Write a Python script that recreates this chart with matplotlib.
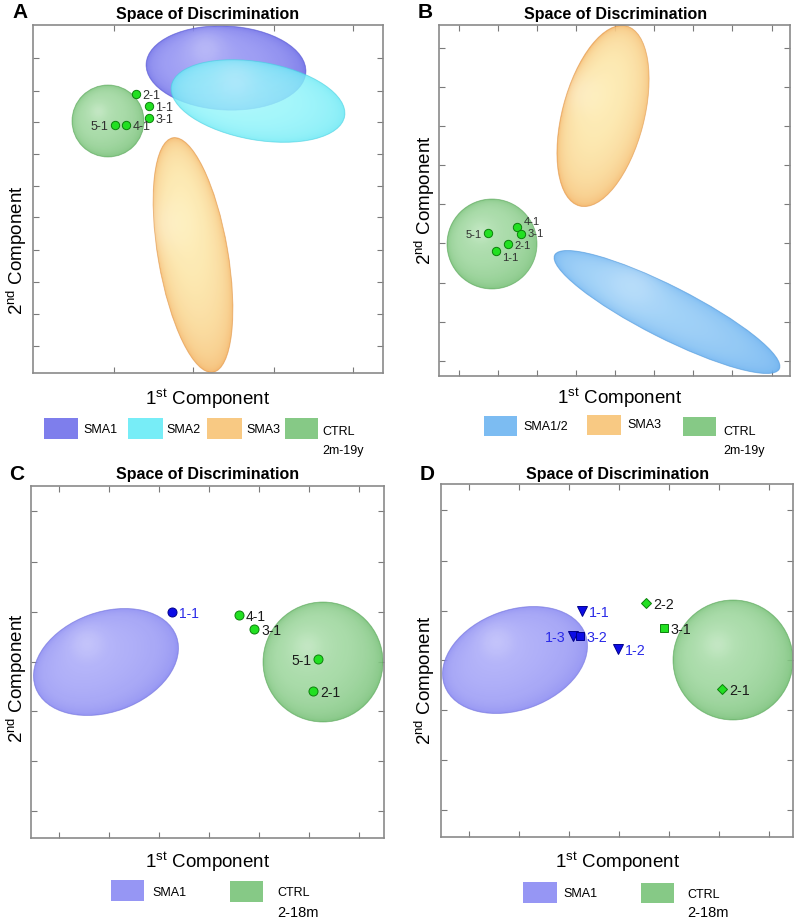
import numpy as np
import matplotlib
matplotlib.use("Agg")
import matplotlib.pyplot as plt
from matplotlib.patches import Ellipse, Rectangle
from matplotlib.colors import to_rgb

plt.rcParams['font.family'] = ['Liberation Sans', 'DejaVu Sans']
plt.rcParams['mathtext.fontset'] = 'custom'
plt.rcParams['mathtext.rm'] = 'Liberation Sans'
plt.rcParams['mathtext.it'] = 'Liberation Sans:italic'
plt.rcParams['mathtext.bf'] = 'Liberation Sans:bold'

# ---------------- data (component-space units) ----------------
# Panel A
A_ell_names = ['SMA1', 'SMA2', 'SMA3', 'CTRL']
A_ell_cx = [193, 225, 160, 75]
A_ell_cy = [305, 272, 118, 252]
A_ell_w = [160, 176, 238, 72]
A_ell_h = [84, 78, 70, 72]
A_ell_ang = [-3, -10, 99.7, 0]
A_pt_labels = ['2-1', '1-1', '3-1', '5-1', '4-1']
A_pt_x = [103, 116, 116, 82, 93]
A_pt_y = [279, 267, 255, 248, 248]
A_pt_side = ['r', 'r', 'r', 'l', 'r']
A_xticks = [81, 160, 241, 320]
A_yticks = [27, 59, 91, 123, 156, 187, 219, 251, 282, 315]

# Panel B
B_ell_names = ['SMA3', 'SMA1/2', 'CTRL']
B_ell_cx = [164, 228, 53]
B_ell_cy = [260, 64, 132]
B_ell_w = [186, 252, 90]
B_ell_h = [82, 52, 90]
B_ell_ang = [75.4, -26.9, 0]
B_pt_labels = ['5-1', '4-1', '3-1', '2-1', '1-1']
B_pt_x = [49, 78, 82, 69, 57]
B_pt_y = [143, 149, 142, 132, 125]
B_pt_side = ['l', 'r', 'r', 'r', 'r']
B_xticks = [20, 59, 98, 137, 176, 215, 254, 293, 333]
B_yticks = [15, 54, 93, 133, 172, 211, 250, 289, 328]

# Panel C
C_ell_names = ['SMA1', 'CTRL']
C_ell_cx = [75, 292]
C_ell_cy = [176, 176]
C_ell_w = [150, 120]
C_ell_h = [100, 120]
C_ell_ang = [20, 0]
C_pt_labels = ['1-1', '4-1', '3-1', '5-1', '2-1']
C_pt_group = ['SMA1', 'CTRL', 'CTRL', 'CTRL', 'CTRL']
C_pt_x = [141, 208, 223, 287, 282]
C_pt_y = [226, 223, 209, 179, 147]
C_pt_side = ['r', 'r', 'r', 'l', 'r']
C_xticks = [28, 78, 128, 178, 228, 278, 328]
C_yticks = [27, 77, 127, 176, 226, 276, 327]

# Panel D
D_ell_names = ['SMA1', 'CTRL']
D_ell_cx = [74, 292]
D_ell_cy = [177, 177]
D_ell_w = [150, 120]
D_ell_h = [100, 120]
D_ell_ang = [20, 0]
D_pt_labels = ['1-1', '1-3', '3-2', '1-2', '2-2', '3-1', '2-1']
D_pt_group = ['SMA1', 'SMA1', 'SMA1', 'SMA1', 'CTRL', 'CTRL', 'CTRL']
D_pt_marker = ['v', 'v', 's', 'v', 'D', 's', 'D']
D_pt_x = [141, 132, 139, 177, 205, 223, 281]
D_pt_y = [226, 201, 201, 188, 234, 209, 148]
D_pt_side = ['r', 'l', 'r', 'r', 'r', 'r', 'r']
D_xticks = [28, 78, 128, 178, 228, 278, 328]
D_yticks = [27, 77, 127, 177, 226, 276, 327]

# ---------------- styles ----------------
FILL = {
    'SMA1A': ('#5e5ee2', '#a6a6f8', 0.92),
    'SMA1': ('#7d7dee', '#b4b4fb', 0.92),
    'SMA2': ('#52e2f2', '#a4fafd', 0.82),
    'SMA3': ('#f2a552', '#fff6bf', 0.92),
    'CTRL': ('#62b462', '#b2e2b2', 0.9),
    'SMA1/2': ('#5aa6ec', '#a6d6fa', 0.92),
}
GREEN_FC, GREEN_EC = '#22e022', '#0b800b'
BLUE_FC, BLUE_EC = '#0c0ce6', '#00008c'
BLUE_TXT = '#2a2ae8'

FW, FH = 797, 920
fig = plt.figure(figsize=(FW / 100, FH / 100), dpi=100)


def fx(x):
    return x / FW


def fy(y):
    return 1 - y / FH


def make_ax(left, top, right, bottom, W, H, xt, yt):
    ax = fig.add_axes([fx(left), fy(bottom), (right - left) / FW, (bottom - top) / FH])
    ax.set_xlim(0, W)
    ax.set_ylim(0, H)
    ax.set_xticks(xt)
    ax.set_yticks(yt)
    ax.tick_params(direction='in', length=4, width=0.8, color='#7a7a7a',
                   top=True, right=True, labelbottom=False, labelleft=False)
    for s in ax.spines.values():
        s.set_color('#8a8a8a')
        s.set_linewidth(1.2)
    return ax


def shaded_ellipse(ax, cx, cy, w, h, ang, key, z):
    rim, light, alpha = FILL[key]
    rim = np.array(to_rgb(rim))
    light = np.array(to_rgb(light))
    R = max(w, h) / 2 + 2
    n = 260
    xs = np.linspace(cx - R, cx + R, n)
    ys = np.linspace(cy - R, cy + R, n)
    X, Y = np.meshgrid(xs, ys)
    th = np.deg2rad(ang)
    u = ((X - cx) * np.cos(th) + (Y - cy) * np.sin(th)) / (w / 2)
    v = (-(X - cx) * np.sin(th) + (Y - cy) * np.cos(th)) / (h / 2)
    r2 = np.clip(u ** 2 + v ** 2, 0, 1)
    zz = np.sqrt(1 - r2)
    gx = (X - cx) / R
    gy = (Y - cy) / R
    t = zz ** 0.55 * (0.85 + 0.15 * np.clip(-gx + gy, -1, 1))
    t = np.clip(t, 0, 1)
    col = rim[None, None, :] * (1 - t[..., None]) + light[None, None, :] * t[..., None]
    spec = 0.22 * np.exp(-((gx + 0.25) ** 2 + (gy - 0.25) ** 2) / 0.05)
    col = col + (1 - col) * spec[..., None]
    rgba = np.dstack([col, np.full(X.shape, alpha)])
    im = ax.imshow(rgba, extent=(cx - R, cx + R, cy - R, cy + R), origin='lower',
                   interpolation='bilinear', zorder=z, aspect='auto')
    clip = Ellipse((cx, cy), w, h, angle=ang, transform=ax.transData)
    im.set_clip_path(clip)
    edge = Ellipse((cx, cy), w, h, angle=ang, facecolor='none',
                   edgecolor=rim * 0.92, linewidth=0.6, alpha=0.6, zorder=z)
    ax.add_patch(edge)


def point_labels(ax, labels, xs, ys, sides, colors, size, dx=4.5, dys=None):
    if dys is None:
        dys = [-0.5] * len(labels)
    for lb, x, y, sd, c, dy in zip(labels, xs, ys, sides, colors, dys):
        off = dx if sd == 'r' else -dx
        ax.annotate(lb, (x, y), xytext=(off, dy), textcoords='offset points',
                    ha='left' if sd == 'r' else 'right', va='center',
                    fontsize=size, color=c, zorder=7)


def texts(title_x, title_y, letter_x, letter_y, letter, xl_x, xl_y, yl_x, yl_y):
    fig.text(fx(title_x), fy(title_y), 'Space of Discrimination', ha='center', va='center',
             fontsize=11.5, fontweight='bold')
    fig.text(fx(letter_x), fy(letter_y), letter, ha='center', va='center',
             fontsize=15, fontweight='bold')
    fig.text(fx(xl_x), fy(xl_y), r'1$^{\mathrm{st}}$ Component', ha='center', va='center',
             fontsize=13.5)
    fig.text(fx(yl_x), fy(yl_y), r'2$^{\mathrm{nd}}$ Component', ha='center', va='center',
             fontsize=13.5, rotation=90)


def legend_item(x0, x1, y0, y1, key, label, tx, ty, size=9, sub=None, sub_y=None, sub_size=9):
    rim, light, _ = FILL[key]
    r = np.array(to_rgb(rim))
    l = np.array(to_rgb(light))
    fig.patches.append(Rectangle((fx(x0), fy(y1)), (x1 - x0) / FW, (y1 - y0) / FH,
                                 transform=fig.transFigure, facecolor=0.55 * r + 0.45 * l,
                                 edgecolor='none'))
    fig.text(fx(tx), fy(ty), label, ha='left', va='center', fontsize=size)
    if sub is not None:
        fig.text(fx(tx), fy(sub_y), sub, ha='left', va='center', fontsize=sub_size)


# ---------------- Panel A ----------------
axA = make_ax(33, 26, 383, 374, 350, 348, A_xticks, A_yticks)
keysA = ['SMA1A', 'SMA2', 'SMA3', 'CTRL']
for i in range(len(A_ell_names)):
    shaded_ellipse(axA, A_ell_cx[i], A_ell_cy[i], A_ell_w[i], A_ell_h[i], A_ell_ang[i], keysA[i], 2 + i * 0.1)
axA.plot(A_pt_x, A_pt_y, 'o', ms=6, mfc=GREEN_FC, mec=GREEN_EC, mew=0.7, zorder=6)
point_labels(axA, A_pt_labels, A_pt_x, A_pt_y, A_pt_side, ['#303030'] * 5, 9)
texts(208, 14, 20, 13, 'A', 208, 399, 17, 250)
legend_item(44, 78, 419, 440, 'SMA1A', 'SMA1', 83, 430)
legend_item(128, 163, 419, 440, 'SMA2', 'SMA2', 166, 430)
legend_item(207, 242, 419, 440, 'SMA3', 'SMA3', 246, 430)
legend_item(285, 318, 419, 440, 'CTRL', 'CTRL', 322, 432, sub='2m-19y', sub_y=451)

# ---------------- Panel B ----------------
axB = make_ax(439, 26, 790, 377, 351, 351, B_xticks, B_yticks)
for i in range(len(B_ell_names)):
    shaded_ellipse(axB, B_ell_cx[i], B_ell_cy[i], B_ell_w[i], B_ell_h[i], B_ell_ang[i], B_ell_names[i], 2 + i * 0.1)
axB.plot(B_pt_x, B_pt_y, 'o', ms=6, mfc=GREEN_FC, mec=GREEN_EC, mew=0.7, zorder=6)
point_labels(axB, B_pt_labels, B_pt_x, B_pt_y, B_pt_side, ['#303030'] * 5, 8,
             dys=[-0.5, 4.0, 0.5, -1.0, -4.5])
texts(616, 14, 425, 13, 'B', 620, 398, 425, 200)
legend_item(484, 517, 417, 437, 'SMA1/2', 'SMA1/2', 523, 427)
legend_item(587, 621, 416, 436, 'SMA3', 'SMA3', 627, 425)
legend_item(683, 716, 418, 437, 'CTRL', 'CTRL', 723, 432, sub='2m-19y', sub_y=451)

# ---------------- Panel C ----------------
axC = make_ax(31, 487, 384, 839, 353, 352, C_xticks, C_yticks)
for i in range(len(C_ell_names)):
    shaded_ellipse(axC, C_ell_cx[i], C_ell_cy[i], C_ell_w[i], C_ell_h[i], C_ell_ang[i], C_ell_names[i], 2 + i * 0.1)
for lb, g, x, y in zip(C_pt_labels, C_pt_group, C_pt_x, C_pt_y):
    fc, ec = (BLUE_FC, BLUE_EC) if g == 'SMA1' else (GREEN_FC, GREEN_EC)
    axC.plot([x], [y], 'o', ms=6.5, mfc=fc, mec=ec, mew=0.7, zorder=6)
point_labels(axC, C_pt_labels, C_pt_x, C_pt_y, C_pt_side,
             [BLUE_TXT if g == 'SMA1' else '#1a1a1a' for g in C_pt_group], 10, dx=5)
texts(208, 475, 17, 475, 'C', 208, 862, 17, 678)
legend_item(111, 144, 881, 902, 'SMA1', 'SMA1', 152, 893)
legend_item(230, 263, 882, 903, 'CTRL', 'CTRL', 277, 893, sub='2-18m', sub_y=913, sub_size=10.5)

# ---------------- Panel D ----------------
axD = make_ax(441, 485, 793, 838, 352, 353, D_xticks, D_yticks)
for i in range(len(D_ell_names)):
    shaded_ellipse(axD, D_ell_cx[i], D_ell_cy[i], D_ell_w[i], D_ell_h[i], D_ell_ang[i], D_ell_names[i], 2 + i * 0.1)
for lb, g, m, x, y in zip(D_pt_labels, D_pt_group, D_pt_marker, D_pt_x, D_pt_y):
    fc, ec = (BLUE_FC, BLUE_EC) if g == 'SMA1' else (GREEN_FC, GREEN_EC)
    ms = {'v': 7.5, 's': 5.5, 'D': 5.5}[m]
    axD.plot([x], [y], m, ms=ms, mfc=fc, mec=ec, mew=0.7, zorder=6)
point_labels(axD, D_pt_labels, D_pt_x, D_pt_y, D_pt_side,
             [BLUE_TXT if g == 'SMA1' else '#1a1a1a' for g in D_pt_group], 10.3, dx=5)
texts(618, 475, 427, 475, 'D', 618, 862, 425, 680)
legend_item(523, 557, 883, 904, 'SMA1', 'SMA1', 563, 894)
legend_item(641, 674, 884, 904, 'CTRL', 'CTRL', 687, 895, sub='2-18m', sub_y=913, sub_size=10.5)

fig.savefig('out.png', dpi=100)
